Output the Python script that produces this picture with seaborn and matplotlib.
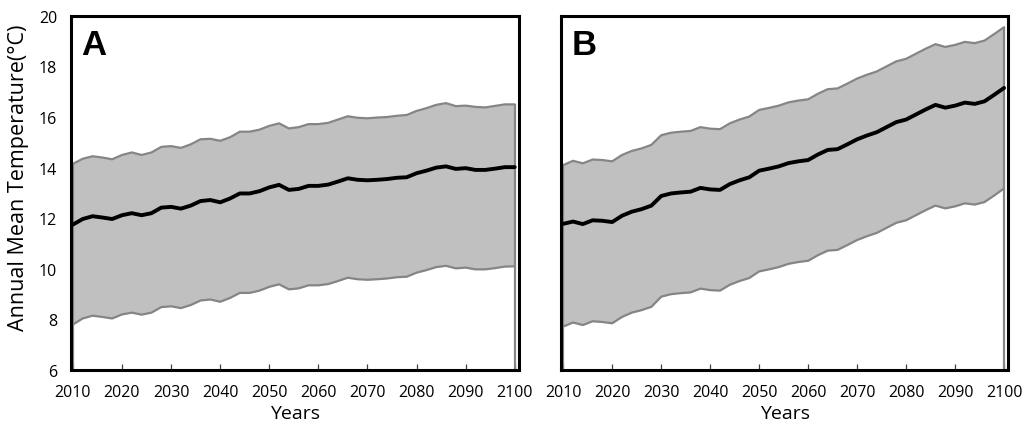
import numpy as np
import pandas as pd
import matplotlib
matplotlib.use("Agg")
import matplotlib.pyplot as plt
import seaborn as sns

# years sampled every 2 years, 2010-2100
years = list(range(2010, 2101, 2))

# Panel A
mean_a = [11.75, 11.97, 12.08, 12.03, 11.97, 12.12, 12.20, 12.12, 12.20, 12.42,
          12.45, 12.38, 12.50, 12.68, 12.72, 12.63, 12.78, 12.98, 12.98, 13.07,
          13.22, 13.32, 13.12, 13.16, 13.28, 13.28, 13.33, 13.45, 13.58, 13.52,
          13.50, 13.52, 13.55, 13.60, 13.62, 13.78, 13.88, 14.00, 14.05, 13.95,
          13.98, 13.91, 13.91, 13.96, 14.02, 14.02]
upper_a = [14.15, 14.35, 14.45, 14.40, 14.33, 14.50, 14.60, 14.50, 14.60, 14.82,
           14.85, 14.78, 14.92, 15.12, 15.14, 15.06, 15.20, 15.42, 15.42, 15.50,
           15.65, 15.75, 15.55, 15.60, 15.72, 15.72, 15.77, 15.90, 16.03, 15.97,
           15.95, 15.98, 16.00, 16.05, 16.08, 16.24, 16.35, 16.48, 16.55, 16.43,
           16.45, 16.40, 16.38, 16.44, 16.50, 16.50]
lower_a = [7.80, 8.04, 8.15, 8.10, 8.04, 8.20, 8.27, 8.19, 8.27, 8.49,
           8.52, 8.45, 8.57, 8.75, 8.79, 8.70, 8.85, 9.05, 9.05, 9.14,
           9.29, 9.39, 9.19, 9.23, 9.35, 9.35, 9.40, 9.52, 9.65, 9.59,
           9.57, 9.59, 9.62, 9.67, 9.69, 9.85, 9.95, 10.07, 10.12, 10.02,
           10.05, 9.98, 9.98, 10.03, 10.09, 10.10]

# Panel B
mean_b = [11.78, 11.87, 11.77, 11.92, 11.90, 11.85, 12.10, 12.26, 12.36, 12.50,
          12.88, 12.98, 13.02, 13.05, 13.20, 13.14, 13.12, 13.35, 13.50, 13.62,
          13.88, 13.96, 14.05, 14.18, 14.25, 14.30, 14.52, 14.70, 14.73, 14.92,
          15.12, 15.27, 15.40, 15.60, 15.80, 15.90, 16.10, 16.30, 16.48, 16.37,
          16.45, 16.57, 16.52, 16.62, 16.88, 17.15]
upper_b = [14.10, 14.27, 14.17, 14.32, 14.30, 14.25, 14.50, 14.66, 14.76, 14.90,
           15.28, 15.38, 15.42, 15.45, 15.60, 15.54, 15.52, 15.75, 15.90, 16.02,
           16.28, 16.36, 16.45, 16.58, 16.65, 16.70, 16.92, 17.10, 17.13, 17.32,
           17.52, 17.67, 17.80, 18.00, 18.20, 18.30, 18.50, 18.70, 18.88, 18.77,
           18.85, 18.97, 18.92, 19.02, 19.28, 19.55]
lower_b = [7.72, 7.88, 7.78, 7.93, 7.90, 7.85, 8.10, 8.27, 8.37, 8.50,
           8.90, 9.00, 9.04, 9.07, 9.22, 9.16, 9.14, 9.37, 9.52, 9.64,
           9.90, 9.98, 10.07, 10.20, 10.27, 10.32, 10.54, 10.72, 10.75, 10.94,
           11.14, 11.29, 11.42, 11.62, 11.82, 11.92, 12.12, 12.32, 12.50, 12.39,
           12.47, 12.59, 12.54, 12.64, 12.90, 13.18]

panel_labels = ["A", "B"]
y_ticks = [6, 8, 10, 12, 14, 16, 18, 20]
x_ticks = list(range(2010, 2101, 10))

sns.set_theme(style="white")
plt.rcParams["font.family"] = ["Open Sans", "DejaVu Sans"]
plt.rcParams["text.color"] = "black"
plt.rcParams["axes.labelcolor"] = "black"
plt.rcParams["xtick.color"] = "black"
plt.rcParams["ytick.color"] = "black"

fig = plt.figure(figsize=(10.28, 4.31), dpi=100)
ax_a = fig.add_axes([0.069, 0.139, 0.436, 0.822])
ax_b = fig.add_axes([0.546, 0.139, 0.435, 0.822])

band_fill = "#c0c0c0"
band_edge = "#858585"

panels = [(ax_a, mean_a, upper_a, lower_a), (ax_b, mean_b, upper_b, lower_b)]
for (ax, mean, upper, lower), lab in zip(panels, panel_labels):
    df = pd.DataFrame({"year": years, "mean": mean, "upper": upper, "lower": lower})
    ymin = y_ticks[0]
    ax.fill_between(df["year"], df["lower"], df["upper"], color=band_fill, lw=0, zorder=1)
    # vertical outline at both ends (area drawn from the axis floor)
    ax.vlines([df["year"].iloc[0], df["year"].iloc[-1]], ymin,
              [df["upper"].iloc[0], df["upper"].iloc[-1]],
              color=band_edge, lw=1.6, zorder=2)
    sns.lineplot(data=df, x="year", y="upper", ax=ax, color=band_edge, lw=1.6, zorder=2)
    sns.lineplot(data=df, x="year", y="lower", ax=ax, color=band_edge, lw=1.6, zorder=2)
    sns.lineplot(data=df, x="year", y="mean", ax=ax, color="black", lw=2.8, zorder=3)

    ax.set_xlim(2009.6, 2100.9)
    ax.set_ylim(6, 20)
    ax.set_xticks(x_ticks)
    ax.set_yticks(y_ticks)
    ax.tick_params(axis="x", direction="in", length=4, width=0.9, color="#404040",
                   pad=10, labelsize=11.5, labelcolor="black", bottom=True)
    ax.tick_params(axis="y", length=0, pad=10, labelsize=11.5, labelcolor="black")
    for sp in ax.spines.values():
        sp.set_color("black")
        sp.set_linewidth(2.2)
        sp.set_visible(True)
    ax.set_xlabel("Years", fontsize=14, labelpad=3, color="black")
    ax.set_ylabel("")
    ax.grid(False)
    ax.text(0.022, 0.965, lab, transform=ax.transAxes, ha="left", va="top", color="black",
            fontsize=25, fontweight="bold", family=["Liberation Sans", "DejaVu Sans"])

ax_a.set_ylabel("Annual Mean Temperature(\u00b0C)", fontsize=15.5, color="black")
ax_a.yaxis.set_label_coords(-0.094, 0.545)
ax_b.set_yticklabels([])

fig.savefig("out.png", dpi=100)
